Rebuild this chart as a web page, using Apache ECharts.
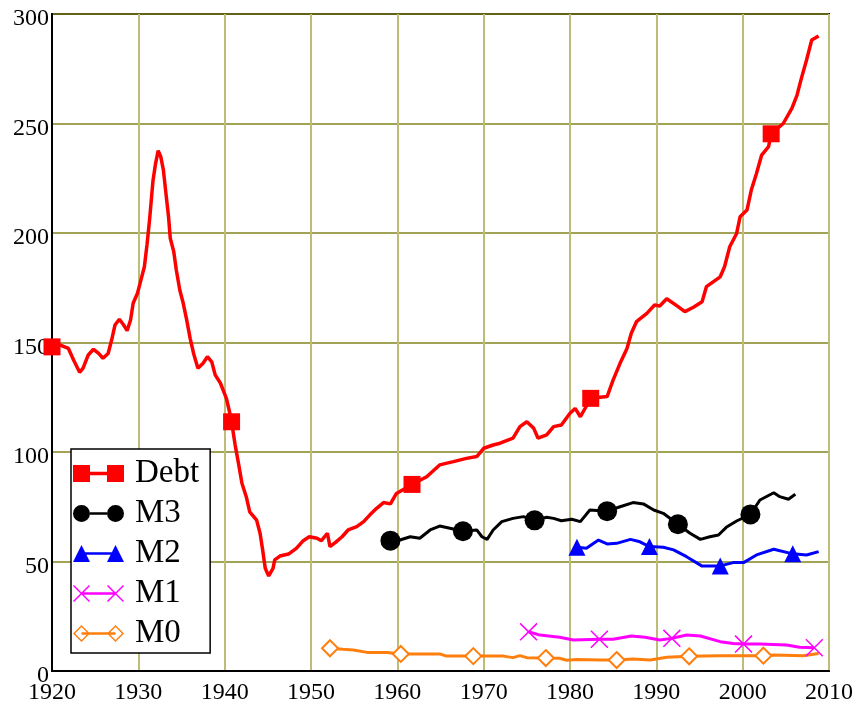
<!DOCTYPE html>
<html>
<head>
<meta charset="utf-8">
<script src="https://cdn.jsdelivr.net/npm/echarts@6/dist/echarts.min.js"></script>
<style>
html,body{margin:0;padding:0;background:#fff;}
#chart{width:862px;height:704px;}
</style>
</head>
<body>
<div id="chart"></div>
<script>
// ---- data (year, value) ----
const debt = [[1920,148],[1920.9,148.9],[1921.9,147.3],[1922.5,142],[1923.2,136.4],[1923.6,138.3],[1924.2,144.3],[1924.8,146.9],[1925.4,145],[1925.9,142.8],[1926.5,145],[1926.9,151],[1927.3,158],[1927.8,160.6],[1928.3,158],[1928.7,155.4],[1929.1,160.3],[1929.4,167.9],[1929.9,172.5],[1930.2,177],[1930.7,184.6],[1931.0,194.5],[1931.3,206],[1931.5,215],[1931.7,224],[1932.0,231.8],[1932.3,237.6],[1932.6,234.8],[1932.9,228.8],[1933.2,218],[1933.5,207.4],[1933.7,197.6],[1934.1,191.5],[1934.4,183.1],[1934.8,174],[1935.2,167.9],[1935.6,160.3],[1936.0,151.9],[1936.4,145],[1936.9,138.2],[1937.5,140.5],[1938.0,143.5],[1938.5,141.2],[1938.9,135.2],[1939.5,131.5],[1940.2,124.5],[1940.6,117.7],[1940.8,113.8],[1941.2,103.5],[1941.6,94.8],[1942.0,85.7],[1942.5,79.6],[1942.9,72.7],[1943.7,68.9],[1944.1,62.9],[1944.4,55.3],[1944.7,46.9],[1945.1,43.4],[1945.6,46.9],[1945.8,50.7],[1946.4,52.5],[1947.4,53.4],[1948.3,56],[1949.1,59.5],[1949.8,61.3],[1950.7,60.6],[1951.2,59.5],[1951.9,62.9],[1952.2,56.8],[1952.8,58.6],[1953.6,61.3],[1954.3,64.4],[1955.3,65.9],[1956.1,68.2],[1956.8,71.2],[1957.6,74.3],[1958.4,76.9],[1959.2,76.3],[1959.9,81.1],[1961.7,85.2],[1963.4,88.7],[1964.9,94.1],[1966.5,95.6],[1968.0,97.1],[1969.2,97.9],[1970.0,101.7],[1971.1,103.2],[1971.9,104],[1973.4,106.3],[1974.2,111.6],[1975.0,113.8],[1975.8,110.8],[1976.3,106.3],[1977.3,107.8],[1978.1,111.6],[1979.0,112.3],[1980.0,117.7],[1980.6,119.9],[1981.2,116.1],[1982.4,124.5],[1984.3,125.3],[1985.0,132.9],[1985.8,140.5],[1986.6,147.3],[1987.1,154.2],[1987.7,159.5],[1988.9,163.3],[1989.8,167.1],[1990.4,166.7],[1991.2,170],[1992.4,166.7],[1993.3,164.1],[1994.3,166.1],[1995.3,168.6],[1995.8,175.5],[1997.4,180],[1997.9,184.6],[1998.5,193.7],[1999.3,199.8],[1999.7,207.4],[2000.5,210.5],[2001.0,219.6],[2001.6,227.2],[2002.2,235.6],[2003.0,239.4],[2003.3,245.3],[2004.7,250],[2005.7,256.9],[2006.3,263],[2006.8,270.6],[2007.4,279],[2008.0,288.1],[2008.8,290]];
const debtMarkerYears = [1920, 1940.8, 1961.7, 1982.4, 2003.3];

const m3 = [[1959.2,59.5],[1960.3,59.8],[1961.5,61.3],[1962.6,60.6],[1963.8,64.4],[1964.9,66.2],[1966.1,65.2],[1967.6,63.8],[1969.2,64.4],[1969.8,61.3],[1970.4,60.1],[1971.1,64.4],[1972.1,68.2],[1973.4,69.7],[1974.6,70.5],[1975.9,68.8],[1977.3,70.2],[1978.1,69.7],[1979.0,68.6],[1980.2,69.3],[1981.2,68.2],[1982.3,73.5],[1984.3,73],[1985.8,75],[1987.3,76.9],[1988.5,76.3],[1989.7,73.5],[1990.8,72],[1992.5,67],[1993.9,62.9],[1995.1,60.1],[1996.2,61.3],[1997.2,62.1],[1998.1,65.6],[1999.3,68.5],[2000.9,71.5],[2002.0,78.1],[2003.6,81.4],[2004.3,79.6],[2005.3,78.4],[2006.1,80.7]];
const m3MarkerYears = [1959.2, 1967.6, 1975.9, 1984.3, 1992.5, 2000.9];

const m2 = [[1980.8,56.5],[1981.9,56],[1983.3,59.8],[1984.3,58],[1985.4,58.3],[1987.0,60.1],[1988.1,59],[1989.2,56.8],[1990.8,56.5],[1992.0,55.3],[1993.5,52.2],[1995.3,47.9],[1997.4,48],[1998.9,49.5],[2000.1,49.5],[2001.6,53],[2003.6,55.6],[2005.8,53.5],[2007.4,53],[2008.8,54.5]];
const m2MarkerYears = [1980.8, 1989.2, 1997.4, 2005.8];

const m1 = [[1975.2,17.9],[1976.5,16.4],[1978.8,15.4],[1980.4,14.2],[1983.4,14.5],[1985.0,14.5],[1987.1,16],[1988.7,15.4],[1990.4,14.2],[1991.8,14.9],[1993.5,16.4],[1995.1,16],[1997.4,13.4],[1998.9,12.6],[2000.1,12.3],[2002.0,12.3],[2005.1,11.9],[2006.6,10.8],[2008.3,10.6]];
const m1MarkerYears = [1975.2, 1983.4, 1991.8, 2000.1, 2008.3];

const m0 = [[1952.2,10.4],[1953.7,9.9],[1954.9,9.6],[1956.5,8.5],[1958.8,8.4],[1960.4,7.8],[1962.6,7.8],[1964.9,7.8],[1965.7,6.8],[1968.8,6.8],[1972.3,6.8],[1973.4,6.1],[1974.2,7],[1975.0,6.1],[1977.2,5.9],[1978.8,5.8],[1979.6,4.9],[1980.8,5.3],[1983.5,5],[1985.4,5],[1987.3,5.5],[1989.3,5],[1990.0,5.5],[1991.2,6.3],[1993.8,6.7],[1997.4,7],[2000.5,7],[2002.4,7],[2003.6,7.3],[2007.0,7],[2008.8,8]];
const m0MarkerYears = [1952.2, 1960.4, 1968.8, 1977.2, 1985.4, 1993.8, 2002.4];

const seriesNames = ['Debt', 'M3', 'M2', 'M1', 'M0'];
const xTicks = {min: 1920, max: 2010, step: 10};
const yTicks = {min: 0, max: 300, step: 50};

// ---- styling ----
const FONT = 'Liberation Serif';
const colors = {Debt: '#ff0000', M3: '#000000', M2: '#0000ff', M1: '#ff00ff', M0: '#ff7f0e'};
const crossPath = 'path://M0,3L3,0L50,47L47,50Z M47,0L50,3L3,50L0,47Z';

const legendIcons = {
  Debt: 'path://M0,0H50V50H0Z M100,0H150V50H100Z M50,20H100V30H50Z',
  M3: 'path://M0,25A25,25 0 1,1 50,25A25,25 0 1,1 0,25Z M100,25A25,25 0 1,1 150,25A25,25 0 1,1 100,25Z M50,21H100V29H50Z',
  M2: 'path://M0,50L25,0L50,50Z M100,50L125,0L150,50Z M36,21H114V29H36Z',
  M1: 'path://M0,3L3,0L50,47L47,50Z M47,0L50,3L3,50L0,47Z M100,3L103,0L150,47L147,50Z M147,0L150,3L103,50L100,47Z M25,21H125V29H25Z',
  M0: 'path://M25,0L50,25L25,50L0,25Z M25,6L6,25L25,44L44,25Z M100,25L125,0L150,25L125,50Z M125,6L106,25L125,44L144,25Z M25,21H125V29H25Z'
};

function markerSymbol(years, sym) {
  const set = new Set(years);
  return function (val) { return set.has(val[0]) ? sym : 'none'; };
}

function lineSeries(name, data, years, sym, size, lw, extraItem) {
  return {
    name: name,
    type: 'line',
    data: data,
    showSymbol: true,
    showAllSymbol: true,
    symbol: markerSymbol(years, sym),
    symbolSize: size,
    smooth: false,
    lineStyle: {color: colors[name], width: lw},
    itemStyle: Object.assign({color: colors[name]}, extraItem || {}),
    emphasis: {disabled: true},
    animation: false,
    z: 3
  };
}

const chart = echarts.init(document.getElementById('chart'), null, {renderer: 'canvas'});
chart.setOption({
  backgroundColor: '#ffffff',
  animation: false,
  grid: {
    left: 52, right: 33, top: 14, bottom: 33,
    containLabel: false,
    outerBoundsMode: 'none',
    show: true,
    borderColor: '#000',
    borderWidth: 2,
    backgroundColor: 'transparent'
  },
  xAxis: {
    type: 'value',
    min: xTicks.min, max: xTicks.max, interval: xTicks.step,
    axisLine: {show: true, lineStyle: {color: '#000', width: 2}},
    axisTick: {show: false},
    splitLine: {show: true, lineStyle: {color: '#bdbd78', width: 2}},
    axisLabel: {
      color: '#000', fontFamily: FONT, fontSize: 24, margin: 10,
      showMinLabel: true, showMaxLabel: true,
      formatter: function (v) { return String(v); }
    }
  },
  yAxis: {
    type: 'value',
    min: yTicks.min, max: yTicks.max, interval: yTicks.step,
    axisLine: {show: true, lineStyle: {color: '#000', width: 2}},
    axisTick: {show: false},
    splitLine: {show: true, lineStyle: {color: '#858520', width: 1.5}},
    axisLabel: {
      color: '#000', fontFamily: FONT, fontSize: 24, margin: 3,
      verticalAlign: 'top', lineHeight: 10,
      showMinLabel: true, showMaxLabel: true
    }
  },
  legend: {
    orient: 'vertical',
    left: 71, top: 449,
    padding: [8, 11, 3, 2],
    itemGap: 7,
    itemWidth: 51, itemHeight: 17,
    selectedMode: false,
    backgroundColor: '#ffffff',
    borderColor: '#000',
    borderWidth: 1.5,
    textStyle: {color: '#000', fontFamily: FONT, fontSize: 33, lineHeight: 33, padding: [0, 0, 0, 6]},
    data: seriesNames.map(function (n) {
      return {name: n, icon: legendIcons[n], itemStyle: {color: colors[n], borderWidth: 0}};
    }),
    z: 10
  },
  series: [
    lineSeries('M0', m0, m0MarkerYears, 'emptyDiamond', 16, 3, {borderWidth: 1.5}),
    lineSeries('M1', m1, m1MarkerYears, crossPath, 18, 3),
    lineSeries('M2', m2, m2MarkerYears, 'triangle', 17, 3),
    lineSeries('M3', m3, m3MarkerYears, 'circle', 20, 3),
    lineSeries('Debt', debt, debtMarkerYears, 'rect', 17, 3.5)
  ]
});
</script>
</body>
</html>
